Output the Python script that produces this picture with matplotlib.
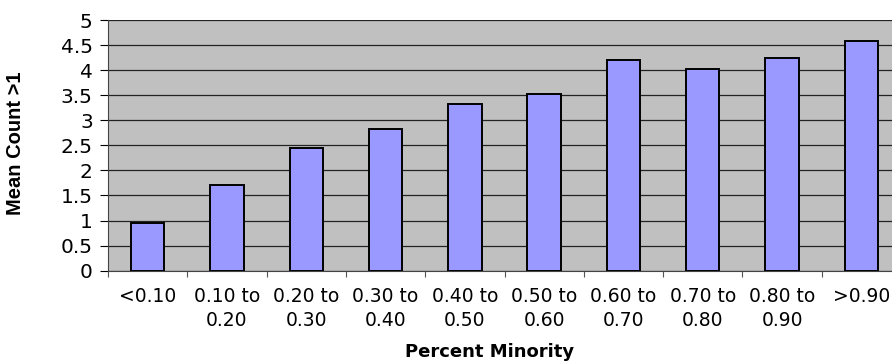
import matplotlib.pyplot as plt
import numpy as np

plt.rcParams["font.family"] = ["Liberation Sans", "DejaVu Sans"]

categories = ["<0.10", "0.10 to\n0.20", "0.20 to\n0.30", "0.30 to\n0.40", "0.40 to\n0.50",
              "0.50 to\n0.60", "0.60 to\n0.70", "0.70 to\n0.80", "0.80 to\n0.90", ">0.90"]
mean_count = [0.96, 1.70, 2.44, 2.82, 3.33, 3.53, 4.20, 4.02, 4.24, 4.58]
y_ticks = [0, 0.5, 1, 1.5, 2, 2.5, 3, 3.5, 4, 4.5, 5]

fig = plt.figure(figsize=(8.92, 3.62), dpi=100)
# plot area runs past the right edge of the picture, as in the reference crop
ax = fig.add_axes([108 / 892, 1 - 270.7 / 362, 793 / 892, 250.7 / 362])

x = np.arange(len(categories))
ax.set_facecolor("#C0C0C0")
ax.bar(x, mean_count, width=0.42, color="#9999FF", edgecolor="black", linewidth=1.4, zorder=3)

ax.set_xlim(-0.5, len(categories) - 0.5)
ax.set_ylim(0, 5)
ax.set_yticks(y_ticks)
ax.set_yticklabels([f"{v:g}" for v in y_ticks], family=["DejaVu Sans"], fontsize=14.5)
ax.yaxis.grid(True, color="#222222", linewidth=0.9, zorder=1)

# ticks at category boundaries, labels at centres
ax.set_xticks(np.arange(len(categories) + 1) - 0.5)
ax.set_xticklabels([])
ax.set_xticks(x, minor=True)
ax.set_xticklabels(categories, minor=True, family=["DejaVu Sans"], fontsize=13.5,
                   linespacing=1.35)
ax.tick_params(axis="x", which="minor", length=0, pad=11.5)
ax.tick_params(axis="x", which="major", length=4, color="#555555")
ax.tick_params(axis="y", length=6, pad=5)

for side in ["top", "right"]:
    ax.spines[side].set_visible(False)
ax.spines["left"].set_color("#444444")
ax.spines["bottom"].set_color("#444444")

ax.set_ylabel("Mean Count >1", fontsize=14.5, fontweight="bold")
ax.yaxis.set_label_coords((25 - 108) / 793, 0.51)
fig.text(490 / 892, 1 - 352 / 362, "Percent Minority", fontsize=13, fontweight="bold",
         family=["DejaVu Sans"], ha="center", va="center")

fig.savefig("out.png", dpi=100)
